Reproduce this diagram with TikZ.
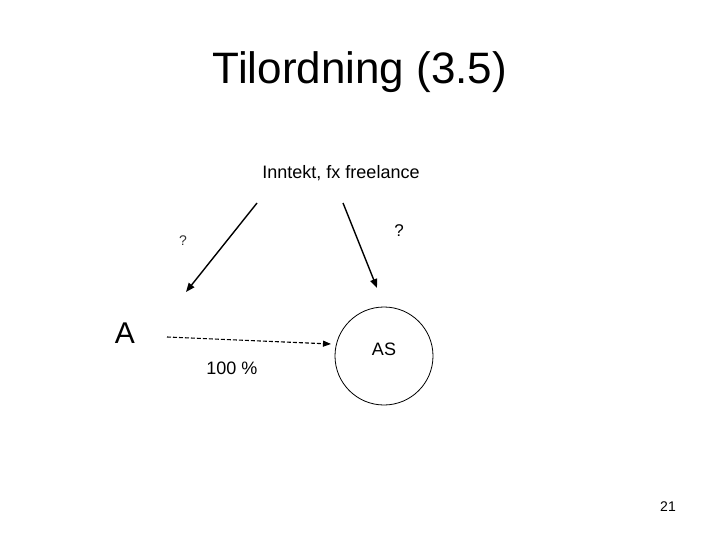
\documentclass[tikz,border=0pt]{standalone}
\usepackage{fontspec}
\setmainfont{Liberation Sans}
\usetikzlibrary{arrows.meta}
\begin{document}
\begin{tikzpicture}[x=1pt,y=-1pt,
  lbl/.style={inner sep=0pt, anchor=center},
  arr/.style={line width=1.4pt, -{Triangle[length=9pt,width=7pt]}},
  darr/.style={line width=1.1pt, dashed, dash pattern=on 4pt off 2pt, -{Triangle[length=8pt,width=6pt]}}]
\useasboundingbox (0,0) rectangle (720,540);
\node[lbl] (title) at (360,72) {\fontsize{44}{50}\selectfont Tilordning (3.5)};
\node[lbl] (inc) at (341,173) {\fontsize{18}{22}\selectfont Inntekt, fx freelance};
\coordinate (l1) at (257,203);
\coordinate (l2) at (186,292);
\coordinate (r1) at (343,203);
\coordinate (r2) at (377,288);
\draw[arr] (l1) -- (l2);
\draw[arr] (r1) -- (r2);
\node[lbl] (qr) at (399,231) {\fontsize{17}{20}\selectfont ?};
\node[lbl, text=black!80] (ql) at (183,241) {\fontsize{14}{17}\selectfont ?};
\node[lbl] (A) at (125,333) {\fontsize{30}{36}\selectfont A};
\node[circle, draw, line width=0.8pt, minimum size=98pt, inner sep=0pt] (AS) at (384,356) {};
\node[lbl] (ast) at (384,349) {\fontsize{18}{22}\selectfont AS};
\coordinate (d1) at (167,337);
\coordinate (d2) at (331,344);
\draw[darr] (d1) -- (d2);
\node[lbl] (pct) at (232,368) {\fontsize{18}{22}\selectfont 100 \%};
\node[lbl] (pg) at (668,507) {\fontsize{14}{17}\selectfont 21};
\end{tikzpicture}
\end{document}
